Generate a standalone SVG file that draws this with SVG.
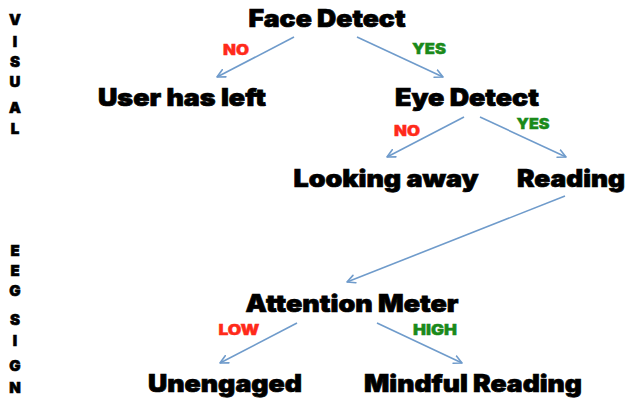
<svg xmlns="http://www.w3.org/2000/svg" width="626" height="400" viewBox="0 0 626 400">
<defs>
<marker id="ah" viewBox="0 0 10 10" refX="9" refY="5" markerWidth="10" markerHeight="10" markerUnits="userSpaceOnUse" orient="auto">
<path d="M1,1 L9,5 L1,9" fill="none" stroke="#6f9bcb" stroke-width="1.6" stroke-linecap="round" stroke-linejoin="round"/>
</marker>
</defs>
<style>
.n{font-family:Inter,"Liberation Sans",sans-serif;font-weight:900;font-size:24px;fill:#000;stroke:#000;stroke-width:0.7;text-anchor:middle}
.s{font-family:Inter,"Liberation Sans",sans-serif;font-weight:900;font-size:15px;fill:#000;stroke:#000;stroke-width:0.6;text-anchor:middle}
.l{font-family:Inter,"Liberation Sans",sans-serif;font-weight:900;font-size:14px;stroke-width:0.4;text-anchor:middle}
.r{fill:#ff2a1a;stroke:#ff2a1a}
.g{fill:#1a8a1a;stroke:#1a8a1a}
.c{fill:none;stroke:#6f9bcb;stroke-width:1.6;marker-end:url(#ah)}
</style>
<rect width="626" height="400" fill="#fff"/>
<g id="side-visual">
<text class="s" x="15" y="25">V</text>
<text class="s" x="15" y="47">I</text>
<text class="s" x="15" y="67">S</text>
<text class="s" x="15" y="87">U</text>
<text class="s" x="15" y="113">A</text>
<text class="s" x="15" y="134">L</text>
</g>
<g id="side-eeg">
<text class="s" x="15" y="256">E</text>
<text class="s" x="15" y="276">E</text>
<text class="s" x="15" y="296">G</text>
<text class="s" x="15" y="325">S</text>
<text class="s" x="15" y="346">I</text>
<text class="s" x="15" y="371">G</text>
<text class="s" x="15" y="393">N</text>
</g>
<g id="connectors">
<line class="c" x1="294" y1="37" x2="217" y2="77"/>
<line class="c" x1="357" y1="37" x2="443" y2="77"/>
<line class="c" x1="464" y1="117" x2="387" y2="157"/>
<line class="c" x1="480" y1="117" x2="566" y2="157"/>
<line class="c" x1="565" y1="196" x2="347" y2="282"/>
<line class="c" x1="297" y1="323" x2="220" y2="363"/>
<line class="c" x1="377" y1="323" x2="462" y2="363"/>
<text class="l r" x="236" y="55" textLength="26" lengthAdjust="spacingAndGlyphs">NO</text>
<text class="l g" x="429" y="54" textLength="34" lengthAdjust="spacingAndGlyphs">YES</text>
<text class="l r" x="407" y="136" textLength="26" lengthAdjust="spacingAndGlyphs">NO</text>
<text class="l g" x="533" y="129" textLength="33" lengthAdjust="spacingAndGlyphs">YES</text>
<text class="l r" x="239" y="335" textLength="41" lengthAdjust="spacingAndGlyphs">LOW</text>
<text class="l g" x="435" y="335" textLength="44" lengthAdjust="spacingAndGlyphs">HIGH</text>
</g>
<g id="face-detect"><text class="n" x="327" y="27" textLength="157" lengthAdjust="spacingAndGlyphs">Face Detect</text></g>
<g id="user-has-left"><text class="n" x="182" y="106" textLength="168" lengthAdjust="spacingAndGlyphs">User has left</text></g>
<g id="eye-detect"><text class="n" x="467" y="106" textLength="144" lengthAdjust="spacingAndGlyphs">Eye Detect</text></g>
<g id="looking-away"><text class="n" x="386" y="187" textLength="185" lengthAdjust="spacingAndGlyphs">Looking away</text></g>
<g id="reading"><text class="n" x="571" y="187" textLength="108" lengthAdjust="spacingAndGlyphs">Reading</text></g>
<g id="attention-meter"><text class="n" x="352" y="312" textLength="213" lengthAdjust="spacingAndGlyphs">Attention Meter</text></g>
<g id="unengaged"><text class="n" x="225" y="392" textLength="154" lengthAdjust="spacingAndGlyphs">Unengaged</text></g>
<g id="mindful-reading"><text class="n" x="473" y="392" textLength="218" lengthAdjust="spacingAndGlyphs">Mindful Reading</text></g>
</svg>
